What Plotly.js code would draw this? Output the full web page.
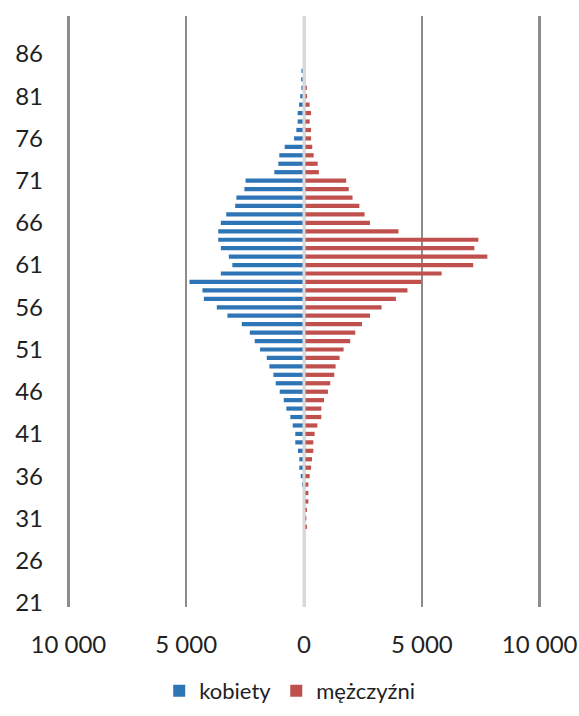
<!DOCTYPE html>
<html>
<head>
<meta charset="utf-8">
<script src="https://cdn.plot.ly/plotly-3.0.1.min.js"></script>
<style>html,body{margin:0;padding:0;background:#fff;}#chart{width:579px;height:716px;}</style>
</head>
<body>
<div id="chart"></div>
<script>
// Age categories (years)
const ages = [30,31,32,33,34,35,36,37,38,39,40,41,42,43,44,45,46,47,48,49,50,51,52,53,54,55,56,57,58,59,60,61,62,63,64,65,66,67,68,69,70,71,72,73,74,75,76,77,78,79,80,81,82,83,84];
// Women counts (drawn to the left)
const kobiety = [0,0,0,0,0,85,140,200,200,255,370,370,480,580,750,860,1030,1200,1300,1470,1580,1865,2090,2300,2640,3250,3700,4250,4310,4860,3530,3040,3190,3530,3640,3640,3530,3300,2920,2870,2530,2480,1260,1090,1050,820,420,325,270,270,210,160,110,120,110];
// Men counts (drawn to the right)
const mezczyzni = [125,100,125,185,185,185,240,300,340,395,395,450,565,735,735,850,1015,1115,1285,1340,1510,1680,1960,2175,2460,2800,3290,3900,4390,4980,5840,7180,7780,7230,7400,4010,2800,2570,2350,2060,1900,1790,630,580,410,350,300,300,240,300,240,130,120,0,0];
// Axis ticks
const xTickVals = [-10000,-5000,0,5000,10000];
const xTickText = ['10 000','5 000','0','5 000','10 000'];
const yTickVals = [21,26,31,36,41,46,51,56,61,66,71,76,81,86];

const FONT = 'Lato, "Open Sans", sans-serif';
const traces = [
  {type:'bar', orientation:'h', name:'kobiety', y:ages, x:kobiety.map(v => -v),
   marker:{color:'#2e75b6'}, width:0.5},
  {type:'bar', orientation:'h', name:'mężczyźni', y:ages, x:mezczyzni,
   marker:{color:'#c0504d'}, width:0.5}
];
const layout = {
  width:579, height:716,
  margin:{l:66, r:37, t:16, b:109, autoexpand:false},
  paper_bgcolor:'#fff', plot_bgcolor:'#fff',
  font:{family:FONT, size:24, color:'#1f1f1f'},
  barmode:'overlay',
  showlegend:true,
  legend:{orientation:'h', xref:'paper', x:0.47, xanchor:'center',
          yref:'container', y:0.035, yanchor:'middle',
          font:{family:FONT, size:22, color:'#1f1f1f'}, traceorder:'normal'},
  xaxis:{range:[-10100,10100], tickmode:'array', tickvals:xTickVals, ticktext:xTickText,
         showgrid:true, gridcolor:'#8c8c8c', gridwidth:2.5,
         zeroline:true, zerolinecolor:'#d9d9d9', zerolinewidth:3,
         showline:false, ticks:'', ticklabelstandoff:21, fixedrange:true, automargin:false},
  yaxis:{range:[20.5,90.5], tickmode:'array', tickvals:yTickVals,
         showgrid:false, zeroline:false, showline:false, ticks:'',
         ticklabelstandoff:22, fixedrange:true, automargin:false},
  shapes:[{type:'line', xref:'x', yref:'paper', x0:0, x1:0, y0:0, y1:1,
           line:{color:'#d9d9d9', width:3}, layer:'above'}]
};
Plotly.newPlot('chart', traces, layout, {staticPlot:true, displayModeBar:false});
</script>
</body>
</html>
